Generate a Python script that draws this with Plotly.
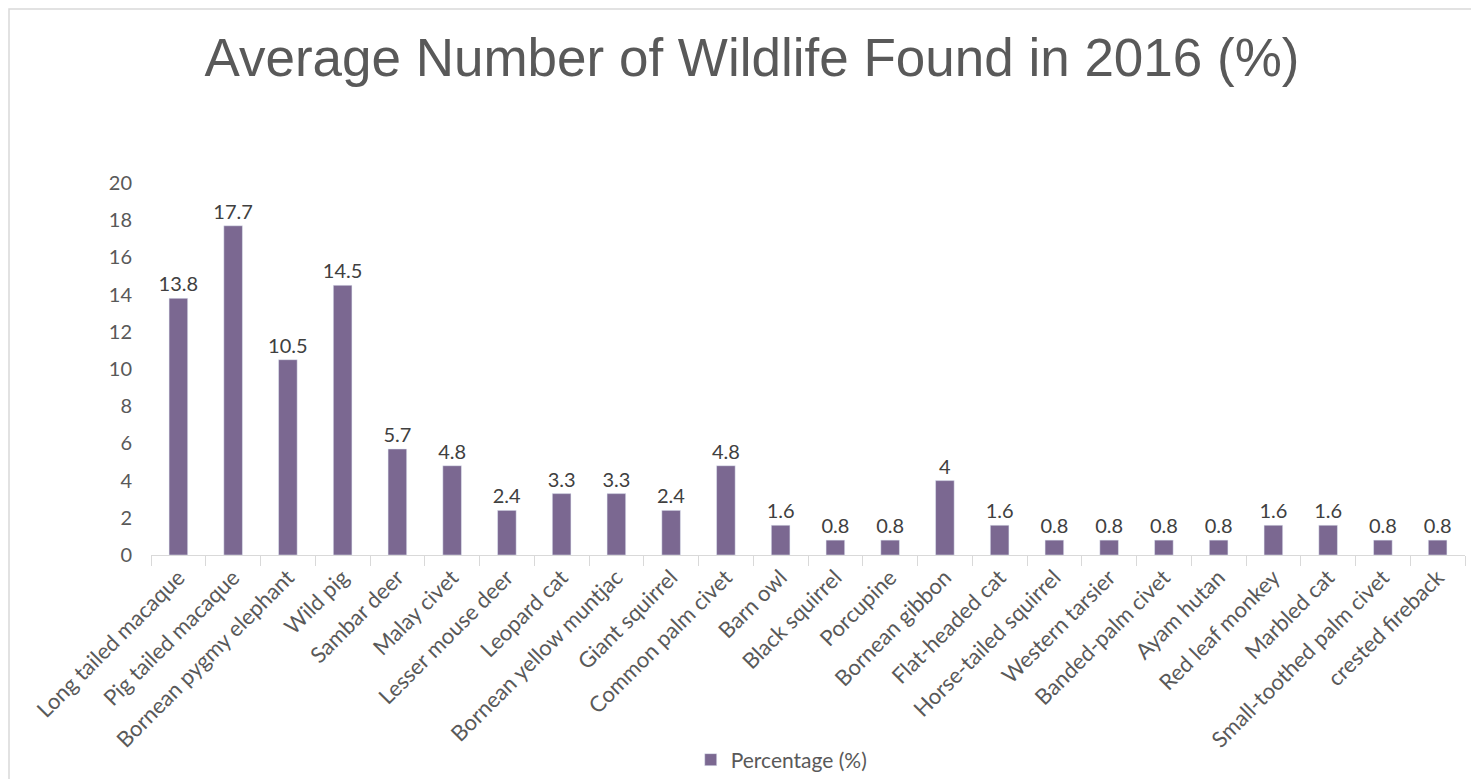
import plotly.graph_objects as go

categories = ["Long tailed macaque", "Pig tailed macaque", "Bornean pygmy elephant", "Wild pig",
              "Sambar deer", "Malay civet", "Lesser mouse deer", "Leopard cat",
              "Bornean yellow muntjac", "Giant squirrel", "Common palm civet", "Barn owl",
              "Black squirrel", "Porcupine", "Bornean gibbon", "Flat-headed cat",
              "Horse-tailed squirrel", "Western tarsier", "Banded-palm civet", "Ayam hutan",
              "Red leaf monkey", "Marbled cat", "Small-toothed palm civet", "crested fireback"]
values = [13.8, 17.7, 10.5, 14.5, 5.7, 4.8, 2.4, 3.3, 3.3, 2.4, 4.8, 1.6,
          0.8, 0.8, 4, 1.6, 0.8, 0.8, 0.8, 0.8, 1.6, 1.6, 0.8, 0.8]
series_name = "Percentage (%)"
y_ticks = [0, 2, 4, 6, 8, 10, 12, 14, 16, 18, 20]

font_fam = "Lato, Noto Sans, sans-serif"
OFF = 8  # page body margin
W, H = 1479 - OFF, 779 - OFF
L, R, T, B = 151 - OFF, 14, 183 - OFF, 224
pw, ph = W - L - R, H - T - B

fig = go.Figure()
fig.add_trace(go.Bar(
    x=categories, y=values, name=series_name,
    marker=dict(color="#7B6891"),
    text=[str(v) for v in values], textposition="outside",
    textfont=dict(family=font_fam, size=20, color="#404040"),
    constraintext="none",
    cliponaxis=False,
))

fig.update_layout(
    width=W, height=H,
    paper_bgcolor="white", plot_bgcolor="white",
    margin=dict(l=L, r=R, t=T, b=B, autoexpand=False),
    bargap=0.66,
    showlegend=True,
    title=dict(text="Average Number of Wildlife Found in 2016 (%)",
               font=dict(family="Liberation Sans, Arial, sans-serif", size=53, color="#595959"),
               x=(752 - OFF) / W, xref="container", xanchor="center",
               y=1 - (57 - OFF) / H, yref="container", yanchor="middle"),
    legend=dict(orientation="h", x=0.48, xanchor="center", y=(T + ph - (760 - OFF)) / ph, yanchor="middle",
                font=dict(family=font_fam, size=21, color="#595959")),
    xaxis=dict(type="category", tickangle=-45, showline=True, linecolor="#d9d9d9", linewidth=1,
               ticks="outside", tickson="boundaries", ticklen=10, tickcolor="#d9d9d9",
               tickfont=dict(family=font_fam, size=22, color="#595959"), showgrid=False,
               automargin=False),
    yaxis=dict(range=[0, 20], tickvals=y_ticks, showgrid=False, zeroline=False, showline=False,
               tickfont=dict(family=font_fam, size=20, color="#595959"), ticklabelstandoff=18,
               automargin=False),
    shapes=[dict(type="rect", xref="paper", yref="paper",
                 x0=(1 - L) / pw, x1=(1468 - L) / pw,
                 y0=(T + ph - 800) / ph, y1=(T + ph - 1) / ph,
                 line=dict(color="#d9d9d9", width=1.5), fillcolor="rgba(0,0,0,0)", layer="below")],
)

fig.write_html("out.html")
